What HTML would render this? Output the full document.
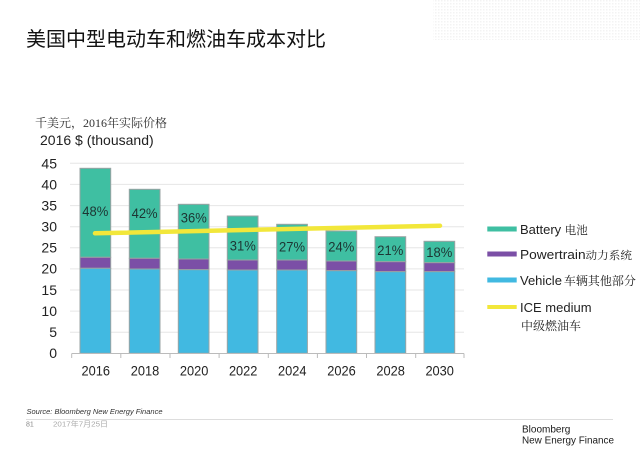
<!DOCTYPE html>
<html><head><meta charset="utf-8">
<style>
html,body{margin:0;padding:0;background:#fff;}
body{width:640px;height:452px;overflow:hidden;position:relative;}
svg{position:absolute;left:0;top:0;}
</style></head>
<body>
<svg width="640" height="452" viewBox="0 0 640 452" xmlns="http://www.w3.org/2000/svg">
<defs>
<pattern id="dots" width="3" height="3" patternUnits="userSpaceOnUse"><rect width="1.5" height="1.5" fill="#e4e4e4"/></pattern>
</defs>
<rect x="433" y="0" width="207" height="40" fill="url(#dots)" opacity="0.45"/>
<text x="26" y="46" font-family="'Liberation Sans','Noto Sans CJK SC',sans-serif" font-size="20" fill="#111">美国中型电动车和燃油车成本对比</text>
<text x="35" y="127" font-family="'Liberation Serif','Noto Serif CJK SC',serif" font-size="12" fill="#333">千美元，2016年实际价格</text>
<text x="40" y="145" font-family="'Liberation Sans','Noto Sans CJK SC',sans-serif" font-size="14" fill="#222">2016 $ (thousand)</text>

<g stroke="#e6e6e6" stroke-width="1">
<line x1="70" x2="464" y1="163.3" y2="163.3"/>
<line x1="70" x2="464" y1="184.4" y2="184.4"/>
<line x1="70" x2="464" y1="205.6" y2="205.6"/>
<line x1="70" x2="464" y1="226.7" y2="226.7"/>
<line x1="70" x2="464" y1="247.8" y2="247.8"/>
<line x1="70" x2="464" y1="268.9" y2="268.9"/>
<line x1="70" x2="464" y1="290" y2="290"/>
<line x1="70" x2="464" y1="311.1" y2="311.1"/>
<line x1="70" x2="464" y1="332.2" y2="332.2"/>
</g>
<g font-family="'Liberation Sans',sans-serif" font-size="14" fill="#222" text-anchor="end">
<text x="57" y="168.5">45</text>
<text x="57" y="189.5">40</text>
<text x="57" y="210.5">35</text>
<text x="57" y="231.5">30</text>
<text x="57" y="252.5">25</text>
<text x="57" y="273.5">20</text>
<text x="57" y="295">15</text>
<text x="57" y="316">10</text>
<text x="57" y="337">5</text>
<text x="57" y="358">0</text>
</g>

<g stroke="#9aa3a3" stroke-width="1">
<rect x="80" y="168.3" width="30.7" height="89" fill="#3fbfa2"/>
<rect x="80" y="257.3" width="30.7" height="11" fill="#7b4fa6"/>
<rect x="80" y="268.3" width="30.7" height="85" fill="#41b9e1"/>

<rect x="129.3" y="189.3" width="30.7" height="69" fill="#3fbfa2"/>
<rect x="129.3" y="258.3" width="30.7" height="10.7" fill="#7b4fa6"/>
<rect x="129.3" y="269" width="30.7" height="84.3" fill="#41b9e1"/>

<rect x="178.3" y="204.3" width="30.7" height="54.7" fill="#3fbfa2"/>
<rect x="178.3" y="259" width="30.7" height="10.7" fill="#7b4fa6"/>
<rect x="178.3" y="269.7" width="30.7" height="83.6" fill="#41b9e1"/>

<rect x="227.3" y="216" width="30.7" height="44" fill="#3fbfa2"/>
<rect x="227.3" y="260" width="30.7" height="10" fill="#7b4fa6"/>
<rect x="227.3" y="270" width="30.7" height="83.3" fill="#41b9e1"/>

<rect x="276.7" y="224.3" width="30.7" height="35.7" fill="#3fbfa2"/>
<rect x="276.7" y="260" width="30.7" height="10" fill="#7b4fa6"/>
<rect x="276.7" y="270" width="30.7" height="83.3" fill="#41b9e1"/>

<rect x="326" y="231" width="30.7" height="30" fill="#3fbfa2"/>
<rect x="326" y="261" width="30.7" height="9.7" fill="#7b4fa6"/>
<rect x="326" y="270.7" width="30.7" height="82.6" fill="#41b9e1"/>

<rect x="375" y="236.7" width="30.7" height="25" fill="#3fbfa2"/>
<rect x="375" y="261.7" width="30.7" height="10" fill="#7b4fa6"/>
<rect x="375" y="271.7" width="30.7" height="81.6" fill="#41b9e1"/>

<rect x="424" y="241.3" width="30.7" height="21.4" fill="#3fbfa2"/>
<rect x="424" y="262.7" width="30.7" height="9" fill="#7b4fa6"/>
<rect x="424" y="271.7" width="30.7" height="81.6" fill="#41b9e1"/>
</g>

<g font-family="'Liberation Sans',sans-serif" font-size="14" fill="#1d3533" text-anchor="middle">
<text x="95.3" y="216" textLength="26" lengthAdjust="spacingAndGlyphs">48%</text>
<text x="144.6" y="218" textLength="26" lengthAdjust="spacingAndGlyphs">42%</text>
<text x="193.8" y="222.5" textLength="26" lengthAdjust="spacingAndGlyphs">36%</text>
<text x="242.8" y="250.5" textLength="26" lengthAdjust="spacingAndGlyphs">31%</text>
<text x="292" y="251.5" textLength="26" lengthAdjust="spacingAndGlyphs">27%</text>
<text x="341.3" y="251.5" textLength="26" lengthAdjust="spacingAndGlyphs">24%</text>
<text x="390.3" y="255" textLength="26" lengthAdjust="spacingAndGlyphs">21%</text>
<text x="439.3" y="257" textLength="26" lengthAdjust="spacingAndGlyphs">18%</text>
</g>

<line x1="95" y1="233.3" x2="440" y2="225.7" stroke="#f2e73a" stroke-width="4.5" stroke-linecap="round"/>

<line x1="71.7" x2="464" y1="353.5" y2="353.5" stroke="#bbb" stroke-width="1"/>
<g stroke="#bbb" stroke-width="1">
<line x1="71.7" x2="71.7" y1="353.5" y2="358"/>
<line x1="120.8" x2="120.8" y1="353.5" y2="358"/>
<line x1="170" x2="170" y1="353.5" y2="358"/>
<line x1="219.1" x2="219.1" y1="353.5" y2="358"/>
<line x1="268.3" x2="268.3" y1="353.5" y2="358"/>
<line x1="317.4" x2="317.4" y1="353.5" y2="358"/>
<line x1="366.5" x2="366.5" y1="353.5" y2="358"/>
<line x1="415.7" x2="415.7" y1="353.5" y2="358"/>
<line x1="464" x2="464" y1="353.5" y2="358"/>
</g>
<g font-family="'Liberation Sans',sans-serif" font-size="14" fill="#222" text-anchor="middle">
<text x="95.8" y="375.5" textLength="28.5" lengthAdjust="spacingAndGlyphs">2016</text>
<text x="145" y="375.5" textLength="28.5" lengthAdjust="spacingAndGlyphs">2018</text>
<text x="194.1" y="375.5" textLength="28.5" lengthAdjust="spacingAndGlyphs">2020</text>
<text x="243.2" y="375.5" textLength="28.5" lengthAdjust="spacingAndGlyphs">2022</text>
<text x="292.3" y="375.5" textLength="28.5" lengthAdjust="spacingAndGlyphs">2024</text>
<text x="341.5" y="375.5" textLength="28.5" lengthAdjust="spacingAndGlyphs">2026</text>
<text x="390.6" y="375.5" textLength="28.5" lengthAdjust="spacingAndGlyphs">2028</text>
<text x="439.7" y="375.5" textLength="28.5" lengthAdjust="spacingAndGlyphs">2030</text>
</g>

<!-- legend -->
<rect x="487.3" y="226.5" width="29.4" height="5" fill="#3fbfa2"/>
<rect x="487.3" y="251.5" width="29.4" height="5" fill="#7b4fa6"/>
<rect x="487.3" y="277.5" width="29.4" height="5" fill="#41b9e1"/>
<rect x="487.3" y="305" width="29.4" height="4" fill="#f2e73a"/>
<g font-family="'Liberation Sans','Noto Serif CJK SC',sans-serif" font-size="13" fill="#222">
<text x="520" y="234">Battery <tspan font-size="11.5" font-family="'Noto Serif CJK SC',serif">电池</tspan></text>
<text x="520" y="259" textLength="112" lengthAdjust="spacingAndGlyphs">Powertrain<tspan font-size="11" font-family="'Noto Serif CJK SC',serif">动力系统</tspan></text>
<text x="520" y="285">Vehicle<tspan font-size="12" font-family="'Noto Serif CJK SC',serif" dx="2">车辆其他部分</tspan></text>
<text x="520" y="312">ICE medium</text>
<text x="521" y="330" font-size="12" font-family="'Noto Serif CJK SC',serif">中级燃油车</text>
</g>

<!-- footer -->
<text x="26.5" y="414" font-family="'Liberation Sans',sans-serif" font-size="7.5" font-style="italic" fill="#333" textLength="136" lengthAdjust="spacingAndGlyphs">Source: Bloomberg New Energy Finance</text>
<line x1="26" x2="613" y1="419.5" y2="419.5" stroke="#ddd" stroke-width="1"/>
<text x="26" y="426.5" font-family="'Liberation Sans',sans-serif" font-size="7" fill="#888">81</text>
<text x="53" y="426.5" font-family="'Liberation Sans','Noto Sans CJK SC',sans-serif" font-size="7.5" fill="#aaa" textLength="55" lengthAdjust="spacingAndGlyphs">2017年7月25日</text>
<text x="522" y="432.5" font-family="'Liberation Sans',sans-serif" font-size="10" fill="#1a1a1a">Bloomberg</text>
<text x="522" y="443.5" font-family="'Liberation Sans',sans-serif" font-size="10" fill="#1a1a1a" textLength="92" lengthAdjust="spacingAndGlyphs">New Energy Finance</text>
</svg>
</body></html>
